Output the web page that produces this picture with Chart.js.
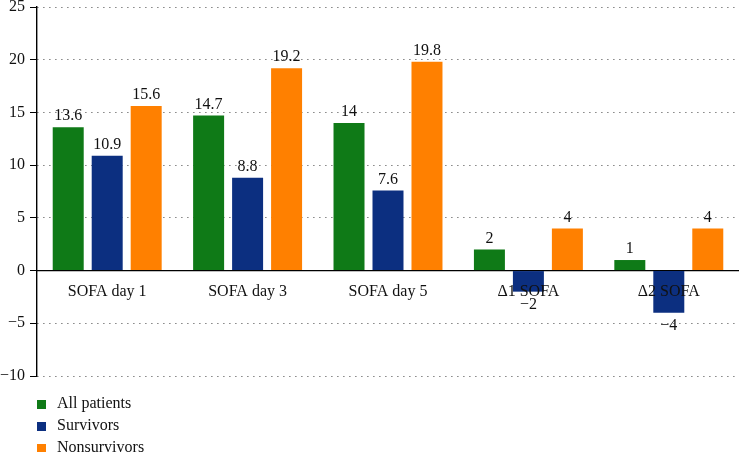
<!DOCTYPE html>
<html>
<head>
<meta charset="utf-8">
<script src="https://cdn.jsdelivr.net/npm/chart.js@4"></script>
<style>
  html, body { margin: 0; padding: 0; background: #fff; }
  #wrap { width: 739px; height: 452px; position: relative; }
</style>
</head>
<body>
<div id="wrap"><canvas id="cha"></canvas></div>
<script>
const categorias = ['SOFA day 1', 'SOFA day 3', 'SOFA day 5', '\u03941 SOFA', '\u03942 SOFA'];
const todos = [13.6, 14.7, 14, 2, 1];
const sobreviventes = [10.9, 8.8, 7.6, -2, -4];
const naoSobreviventes = [15.6, 19.2, 19.8, 4, 4];
const yTicks = [-10, -5, 0, 5, 10, 15, 20, 25];

const fonte = 'Liberation Serif';
const menos = v => String(v).replace('-', '\u2212');

// rotulos de valor acima/abaixo das barras
const rotulos = {
    id: 'rotulos',
    afterDatasetsDraw(chart) {
        const ctx = chart.ctx;
        ctx.save();
        ctx.font = '16px "' + fonte + '"';
        ctx.fillStyle = '#111';
        ctx.textAlign = 'center';
        chart.data.datasets.forEach((ds, i) => {
            chart.getDatasetMeta(i).data.forEach((bar, j) => {
                const v = ds.data[j];
                if (v >= 0) {
                    ctx.textBaseline = 'bottom';
                    ctx.fillText(menos(v), bar.x, bar.y - 3);
                } else {
                    ctx.textBaseline = 'top';
                    ctx.fillText(menos(v), bar.x, bar.y + 5);
                }
            });
        });
        ctx.restore();
    }
};

// legenda vertical embaixo
const legenda = {
    id: 'legenda',
    afterDraw(chart) {
        const ctx = chart.ctx;
        ctx.save();
        ctx.font = '16px "' + fonte + '"';
        ctx.textBaseline = 'middle';
        ctx.textAlign = 'left';
        chart.data.datasets.forEach((ds, i) => {
            const y = 404 + i * 22;
            ctx.fillStyle = ds.backgroundColor;
            ctx.fillRect(37, y - 4, 9, 9);
            ctx.fillStyle = '#111';
            ctx.fillText(ds.label, 57, y);
        });
        ctx.restore();
    }
};

const ctx4 = document.getElementById('cha');
const chart4 = new Chart(ctx4, {
    type: 'bar',
    data: {
        labels: categorias,
        datasets: [{
            label: 'All patients',
            data: todos,
            backgroundColor: '#0f7a17',
        },
        {
            label: 'Survivors',
            data: sobreviventes,
            backgroundColor: '#0c2f80',
        },
        {
            label: 'Nonsurvivors',
            data: naoSobreviventes,
            backgroundColor: '#ff8000',
        }],
    },
    options: {
        responsive: true,
        maintainAspectRatio: false,
        animation: false,
        categoryPercentage: 0.833,
        barPercentage: 0.795,
        layout: {
            padding: { top: 0, bottom: 76, left: 0, right: 0 }
        },
        plugins: {
            legend: { display: false },
            tooltip: { enabled: false },
        },
        scales: {
            x: {
                position: { y: 0 },
                grid: { display: false },
                border: { color: '#000', width: 1.2 },
                ticks: {
                    z: 1,
                    color: '#111',
                    padding: 4,
                    font: { family: fonte, size: 16 }
                }
            },
            y: {
                min: -10,
                max: 25,
                afterBuildTicks: s => { s.ticks = yTicks.map(v => ({ value: v })); },
                afterFit: s => { s.width = 37; s.paddingTop = 7; s.paddingBottom = 0; },
                grid: {
                    color: '#444',
                    lineWidth: 1,
                    tickLength: 7,
                    tickColor: '#000',
                    tickBorderDash: [],
                },
                border: { color: '#000', width: 1.4, dash: [1, 5] },
                ticks: {
                    color: '#111',
                    padding: 5,
                    font: { family: fonte, size: 16 },
                    callback: v => menos(v)
                }
            }
        }
    },
    plugins: [rotulos, legenda]
});
</script>
</body>
</html>
